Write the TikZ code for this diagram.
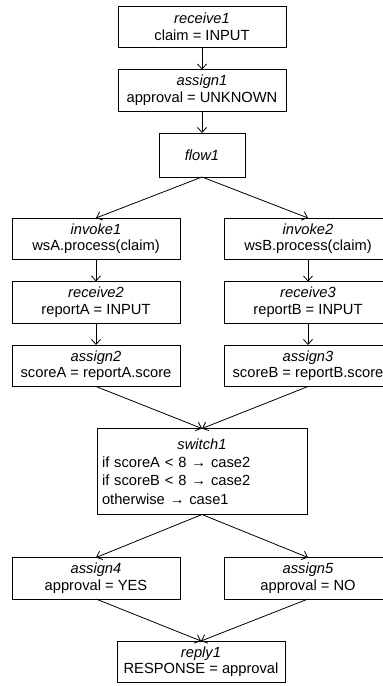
\documentclass[tikz,border=0pt]{standalone}
\usepackage{fontspec}
\setmainfont{Liberation Sans}
\usetikzlibrary{arrows.meta, positioning}

\begin{document}
\begin{tikzpicture}[
    x=1pt, y=1pt,
    node distance=22pt,
    box/.style={rectangle, draw=black, line width=0.8pt, outer sep=0pt,
                minimum width=168pt, minimum height=41.5pt,
                align=center, font=\fontsize{14.7}{16.2}\selectfont},
    flowbox/.style={box, minimum width=86pt, minimum height=44pt},
    switchbox/.style={box, align=left, text width=200pt, inner xsep=5pt,
                minimum height=86pt, font=\fontsize{14.7}{18.2}\selectfont},
    arrow/.style={-{Straight Barb[length=5pt, width=9pt]}, line width=0.8pt}
]
\useasboundingbox (0,0) rectangle (383,-686);

\node[box] (receive1) at (202,-26.75) {\textit{receive1}\\claim = INPUT};
\node[box, below=of receive1] (assign1) {\textit{assign1}\\approval = UNKNOWN};
\node[flowbox, below=of assign1] (flow1) {\textit{flow1}};

\node[box, below=41pt of flow1, xshift=-106pt] (invoke1) {\textit{invoke1}\\wsA.process(claim)};
\node[box, right=44pt of invoke1] (invoke2) {\textit{invoke2}\\wsB.process(claim)};
\node[box, below=of invoke1] (receive2) {\textit{receive2}\\reportA = INPUT};
\node[box, below=of invoke2] (receive3) {\textit{receive3}\\reportB = INPUT};
\node[box, below=of receive2] (assign2) {\textit{assign2}\\scoreA = reportA.score};
\node[box, below=of receive3] (assign3) {\textit{assign3}\\scoreB = reportB.score};

\node[switchbox, below=42pt of assign2, xshift=106pt] (switch1)
    {\makebox[200pt]{\textit{switch1}}\\
     if scoreA < 8 → case2\\
     if scoreB < 8 → case2\\
     otherwise → case1};

\node[box, below=43pt of switch1, xshift=-106pt] (assign4) {\textit{assign4}\\approval = YES};
\node[box, right=44pt of assign4] (assign5) {\textit{assign5}\\approval = NO};
\node[box, below=42pt of assign4, xshift=105pt] (reply1) {\textit{reply1}\\RESPONSE = approval};

\draw[arrow] (receive1) -- (assign1);
\draw[arrow] (assign1) -- (flow1);
\draw[arrow] (flow1.south) -- (invoke1.north);
\draw[arrow] (flow1.south) -- (invoke2.north);
\draw[arrow] (invoke1) -- (receive2);
\draw[arrow] (invoke2) -- (receive3);
\draw[arrow] (receive2) -- (assign2);
\draw[arrow] (receive3) -- (assign3);
\draw[arrow] (assign2.south) -- (switch1.north);
\draw[arrow] (assign3.south) -- (switch1.north);
\draw[arrow] (switch1.south) -- (assign4.north);
\draw[arrow] (switch1.south) -- (assign5.north);
\draw[arrow] (assign4.south) -- (reply1.north);
\draw[arrow] (assign5.south) -- (reply1.north);

\end{tikzpicture}
\end{document}
